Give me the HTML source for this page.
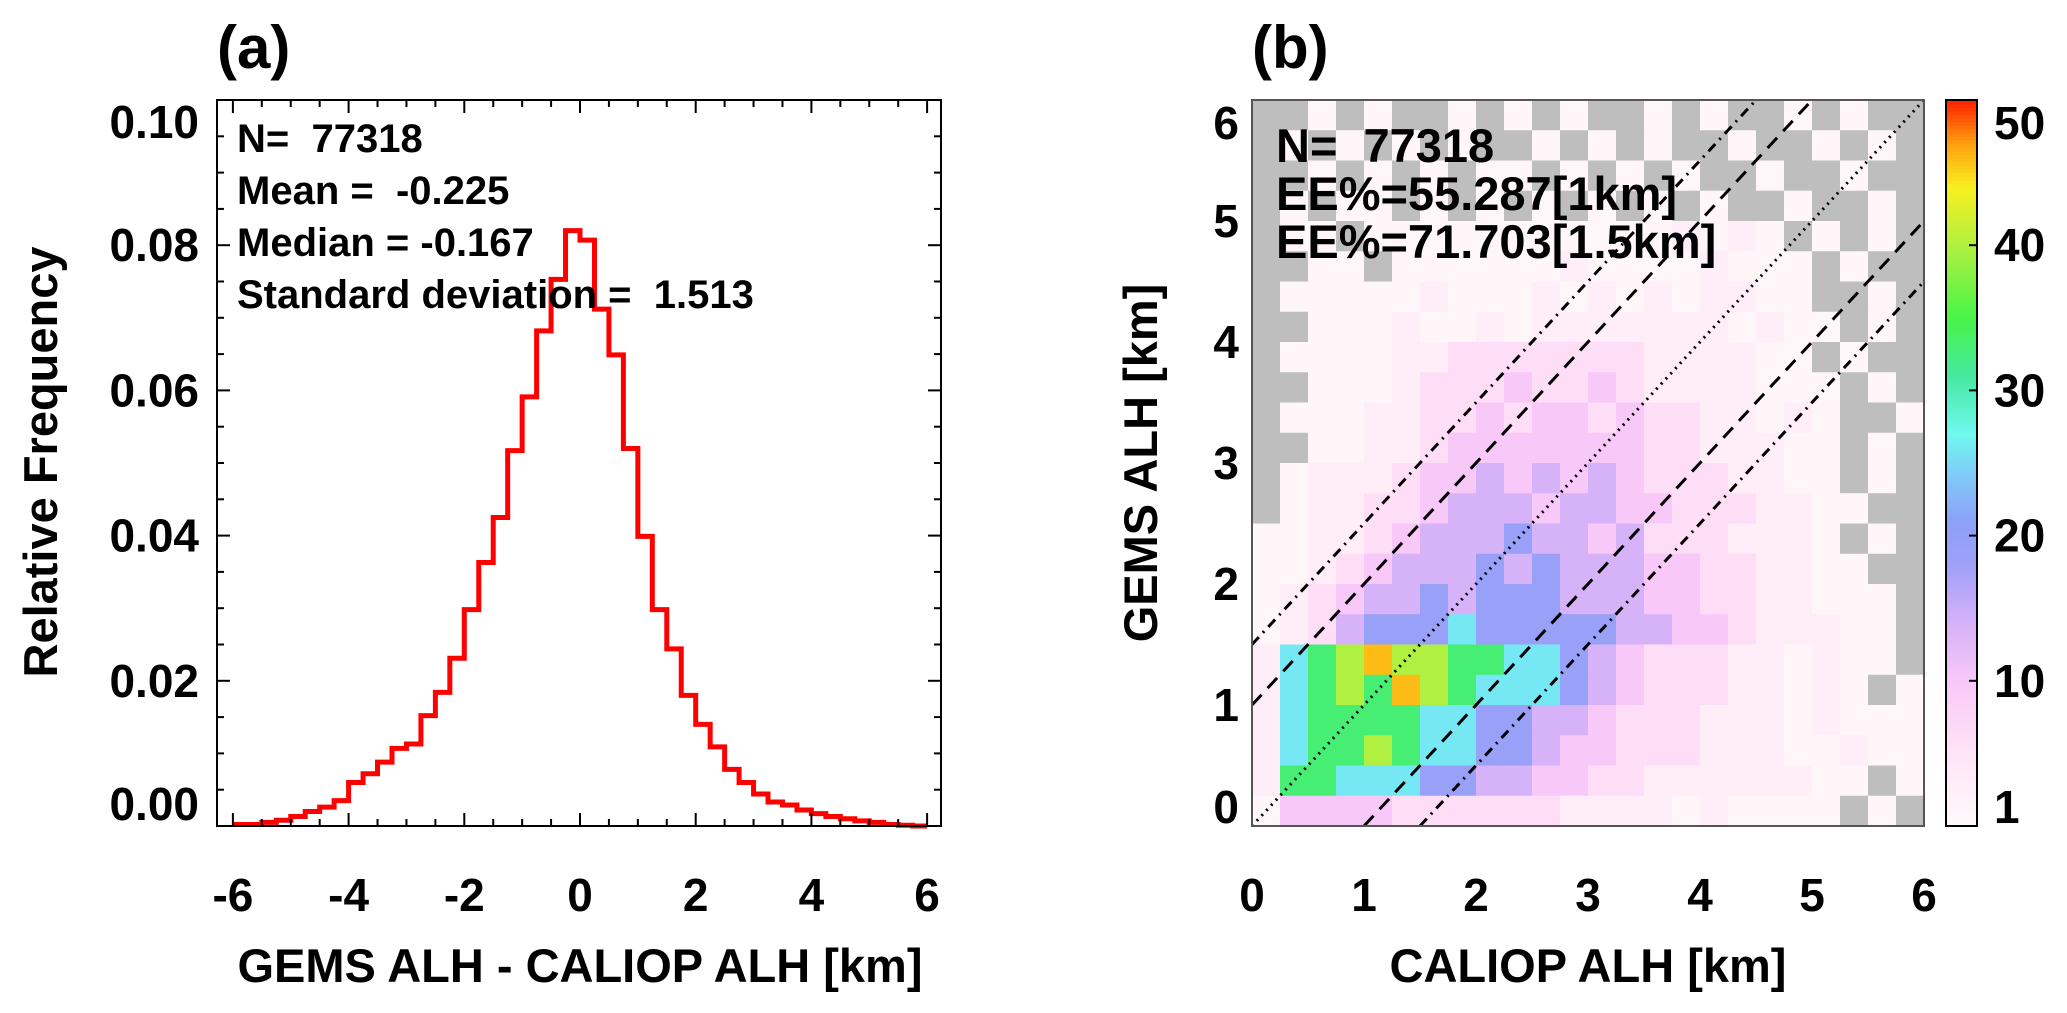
<!DOCTYPE html>
<html><head><meta charset="utf-8"><style>
html,body{margin:0;padding:0;background:#fff;}
svg{display:block;font-family:"Liberation Sans",Arial,sans-serif;font-weight:bold;}
text{white-space:pre;}
</style></head><body>
<svg id="fig" width="2067" height="1013" viewBox="0 0 2067 1013" xmlns="http://www.w3.org/2000/svg">
<g id="pa"></g>
<g id="pb"></g>
</svg>
<script>
// ---------- Panel (a) data ----------
const histEdgeStart = -6;
const histBinWidth = 0.25;
const histValues = [0.0002,0.0002,0.0005,0.0008,0.0013,0.0020,0.0026,0.0035,0.0060,0.0072,0.0088,0.0107,
  0.0113,0.0152,0.0184,0.0231,0.0298,0.0363,0.0425,0.0517,0.0591,0.0682,0.0753,0.0820,
  0.0807,0.0712,0.0649,0.0520,0.0399,0.0298,0.0244,0.0180,0.0140,0.0109,0.0078,0.0060,
  0.0044,0.0033,0.0029,0.0022,0.0017,0.0013,0.0010,0.0007,0.0005,0.0002,0.0001,0.0000];
const aXTicks = [-6,-4,-2,0,2,4,6];
const aYTicks = [0.00,0.02,0.04,0.06,0.08,0.10];
const aYTickLabels = ["0.00","0.02","0.04","0.06","0.08","0.10"];
const aStats = ["N=  77318","Mean =  -0.225","Median = -0.167","Standard deviation =  1.513"];

// ---------- Panel (b) data ----------
const bXTicks = [0,1,2,3,4,5,6];
const bYTicks = [0,1,2,3,4,5,6];
const cbTicks = [1,10,20,30,40,50];
const bStats = ["N=  77318","EE%=55.287[1km]","EE%=71.703[1.5km]"];
const binSize = 0.25;
const levelCodes = "0123456789ab";
const levelCounts = [0,1,3,6,10,14,19,26,33,40,46,51];
const gridRows = [
"001010010101001010010100",
"010101010010101001001010",
"001010101101010100100100",
"010110101010101010010010",
"011011111111111212101010",
"001101111112111121110100",
"011111211121212122110010",
"001112112122222221211010",
"011112233333332222110100",
"001112333433432222111010",
"011122334344343322121001",
"001122344444443322211010",
"012223445454543332211010",
"012233455545544333221100",
"112234555655453332221010",
"112345556565554433221100",
"123455656665554433221110",
"123566676666655443222110",
"2789a9988776543332212110",
"27898a987776543332212101",
"278888776655433322212111",
"278898776654433322211211",
"288777665544332222221101",
"144443333332222121111010"];

const NS = "http://www.w3.org/2000/svg";
function mk(parent, tag, attrs, text){
  const e = document.createElementNS(NS, tag);
  for (const k in attrs) e.setAttribute(k, attrs[k]);
  if (text !== undefined) e.textContent = text;
  parent.appendChild(e);
  return e;
}
const pa = document.getElementById('pa');
const pb = document.getElementById('pb');

// ---- Panel a geometry ----
const aL=217, aR=941, aT=100, aB=826;
const ax = v => 580 + v*57.85;
const ay = v => aB - v/0.1*(aB-aT);

let t = mk(pa,'text',{x:217,y:68,'font-size':60});
t.textContent='(a)';



let d = '';
for (let i=0;i<histValues.length;i++){
  const x0 = ax(histEdgeStart+i*histBinWidth), x1 = ax(histEdgeStart+(i+1)*histBinWidth);
  const y = ay(histValues[i]);
  d += (i===0? 'M'+x0+','+y : 'L'+x0+','+y) + 'L'+x1+','+y;
}
const hist = mk(pa,'path',{d:d,fill:'none',stroke:'#ff0000','stroke-width':5,'stroke-linejoin':'miter'});



const fa = mk(pa,'rect',{x:aL,y:aT,width:aR-aL,height:aB-aT,fill:'none',stroke:'#000','stroke-width':2});



for (let v=-6; v<=6.001; v+=0.5){
  const x=ax(v), major = Math.abs(v%2)<0.01;
  const L = major?13:7;
  mk(pa,'line',{x1:x,y1:aB,x2:x,y2:aB-L,stroke:'#000','stroke-width':2});
  mk(pa,'line',{x1:x,y1:aT,x2:x,y2:aT+L,stroke:'#000','stroke-width':2});
}
for (let k=0; k<=20; k++){
  const v=k*0.005, y=ay(v), major = k%4===0;
  const L = major?13:7;
  mk(pa,'line',{x1:aL,y1:y,x2:aL+L,y2:y,stroke:'#000','stroke-width':2});
  mk(pa,'line',{x1:aR,y1:y,x2:aR-L,y2:y,stroke:'#000','stroke-width':2});
}
aXTicks.forEach(v=>{
  const e = mk(pa,'text',{x:ax(v),y:911,'font-size':46,'text-anchor':'middle'}, String(v));
  
  
});
aYTicks.forEach((v,i)=>{
  let y = ay(v)+16;
  y = Math.max(138, Math.min(y, 820));
  const e = mk(pa,'text',{x:199,y:y,'font-size':46,'text-anchor':'end'}, aYTickLabels[i]);
  
  
});
aStats.forEach((s,i)=>{
  const e = mk(pa,'text',{x:237,y:152+i*52,'font-size':40}, s);
  
  
});
t = mk(pa,'text',{x:580,y:982,'font-size':47,'text-anchor':'middle'},'GEMS ALH - CALIOP ALH [km]');


t = mk(pa,'text',{x:0,y:0,'font-size':47,'text-anchor':'middle',transform:'translate(57,462) rotate(-90)'},'Relative Frequency');



// ---- Panel b geometry ----
const bL=1252, bR=1924, bT=100, bB=826;
const bx = v => bL + v*(bR-bL)/6;
const by = v => bB - v*(bB-bT)/6;

const cmapStops = [[0,[255,250,250]],[5,[255,228,246]],[10,[248,200,248]],[14,[214,178,248]],[18,[160,160,248]],[21,[140,160,248]],
  [24,[128,200,248]],[27,[112,248,240]],[31,[70,232,160]],[35,[72,244,72]],[40,[176,240,64]],[44,[248,240,32]],[47,[255,160,16]],[50,[255,32,0]]];
function cmap(v){
  if (v<=0) return 'rgb(190,190,190)';
  for (let i=1;i<cmapStops.length;i++){
    if (v<=cmapStops[i][0]){
      const [a,ca]=cmapStops[i-1],[b,cb]=cmapStops[i];
      const f=(v-a)/(b-a);
      return 'rgb('+ca.map((c,j)=>Math.round(c+(cb[j]-c)*f)).join(',')+')';
    }
  }
  return 'rgb(255,32,0)';
}
function cbColor(v){ return v<=0 ? 'rgb(255,250,250)' : cmap(v); }

t = mk(pb,'text',{x:1252,y:68,'font-size':60});
t.textContent='(b)';



const cellsG = mk(pb,'g',{});


gridRows.forEach((row,r)=>{
  const yTop = 6 - r*binSize;
  for (let c=0;c<row.length;c++){
    const count = levelCounts[levelCodes.indexOf(row[c])];
    const x0=bx(c*binSize), x1=bx((c+1)*binSize), y0=by(yTop), y1=by(yTop-binSize);
    const e = mk(cellsG,'rect',{x:x0,y:y0,width:x1-x0+0.5,height:y1-y0+0.5,fill:cmap(count)});
    
    
  }
});

const lines = [
  {o:0, dash:'2,5', name:'one-to-one-line'},
  {o:1, dash:'14,9', name:'ee-1km-upper-line'},
  {o:-1, dash:'14,9', name:'ee-1km-lower-line'},
  {o:1.5, dash:'10,6,2,6', name:'ee-1p5km-upper-line'},
  {o:-1.5, dash:'10,6,2,6', name:'ee-1p5km-lower-line'}];
lines.forEach(l=>{
  const xs = Math.max(0,-l.o), xe = Math.min(6,6-l.o);
  const e = mk(pb,'line',{x1:bx(xs),y1:by(xs+l.o),x2:bx(xe),y2:by(xe+l.o),stroke:'#000','stroke-width':3,'stroke-dasharray':l.dash});
  
  
});

const fb = mk(pb,'rect',{x:bL,y:bT,width:bR-bL,height:bB-bT,fill:'none',stroke:'#555','stroke-width':2});



bStats.forEach((s,i)=>{
  const e = mk(pb,'text',{x:1276,y:162+i*48,'font-size':47}, s);
  
  
});
bXTicks.forEach(v=>{
  const e = mk(pb,'text',{x:bx(v),y:911,'font-size':46,'text-anchor':'middle'}, String(v));
  
  
});
bYTicks.forEach(v=>{
  let y = by(v)+16;
  y = Math.max(139, Math.min(y, 823));
  const e = mk(pb,'text',{x:1239,y:y,'font-size':46,'text-anchor':'end'}, String(v));
  
  
});
t = mk(pb,'text',{x:1588,y:982,'font-size':47,'text-anchor':'middle'},'CALIOP ALH [km]');


t = mk(pb,'text',{x:0,y:0,'font-size':47,'text-anchor':'middle',transform:'translate(1157,463) rotate(-90)'},'GEMS ALH [km]');



const cbL=1946, cbR=1977, cbT=100, cbB=826, cbMax=50;
const cy = v => cbB - v/cbMax*(cbB-cbT);
const cbG = mk(pb,'g',{});


for (let k=0;k<200;k++){
  const v0=k*cbMax/200, v1=(k+1)*cbMax/200;
  mk(cbG,'rect',{x:cbL,y:cy(v1),width:cbR-cbL,height:cy(v0)-cy(v1)+0.6,fill:cbColor((v0+v1)/2)});
}
mk(cbG,'rect',{x:cbL,y:cbT,width:cbR-cbL,height:cbB-cbT,fill:'none',stroke:'#000','stroke-width':2});
cbTicks.forEach(v=>{
  const y=cy(v);
  if (v>1 && v<50) mk(cbG,'line',{x1:cbR-8,y1:y,x2:cbR,y2:y,stroke:'#000','stroke-width':2});
  let ty = Math.max(139, Math.min(y+16, 823));
  const e = mk(pb,'text',{x:1994,y:ty,'font-size':46}, String(v));
  
  
});
</script>
</body></html>
